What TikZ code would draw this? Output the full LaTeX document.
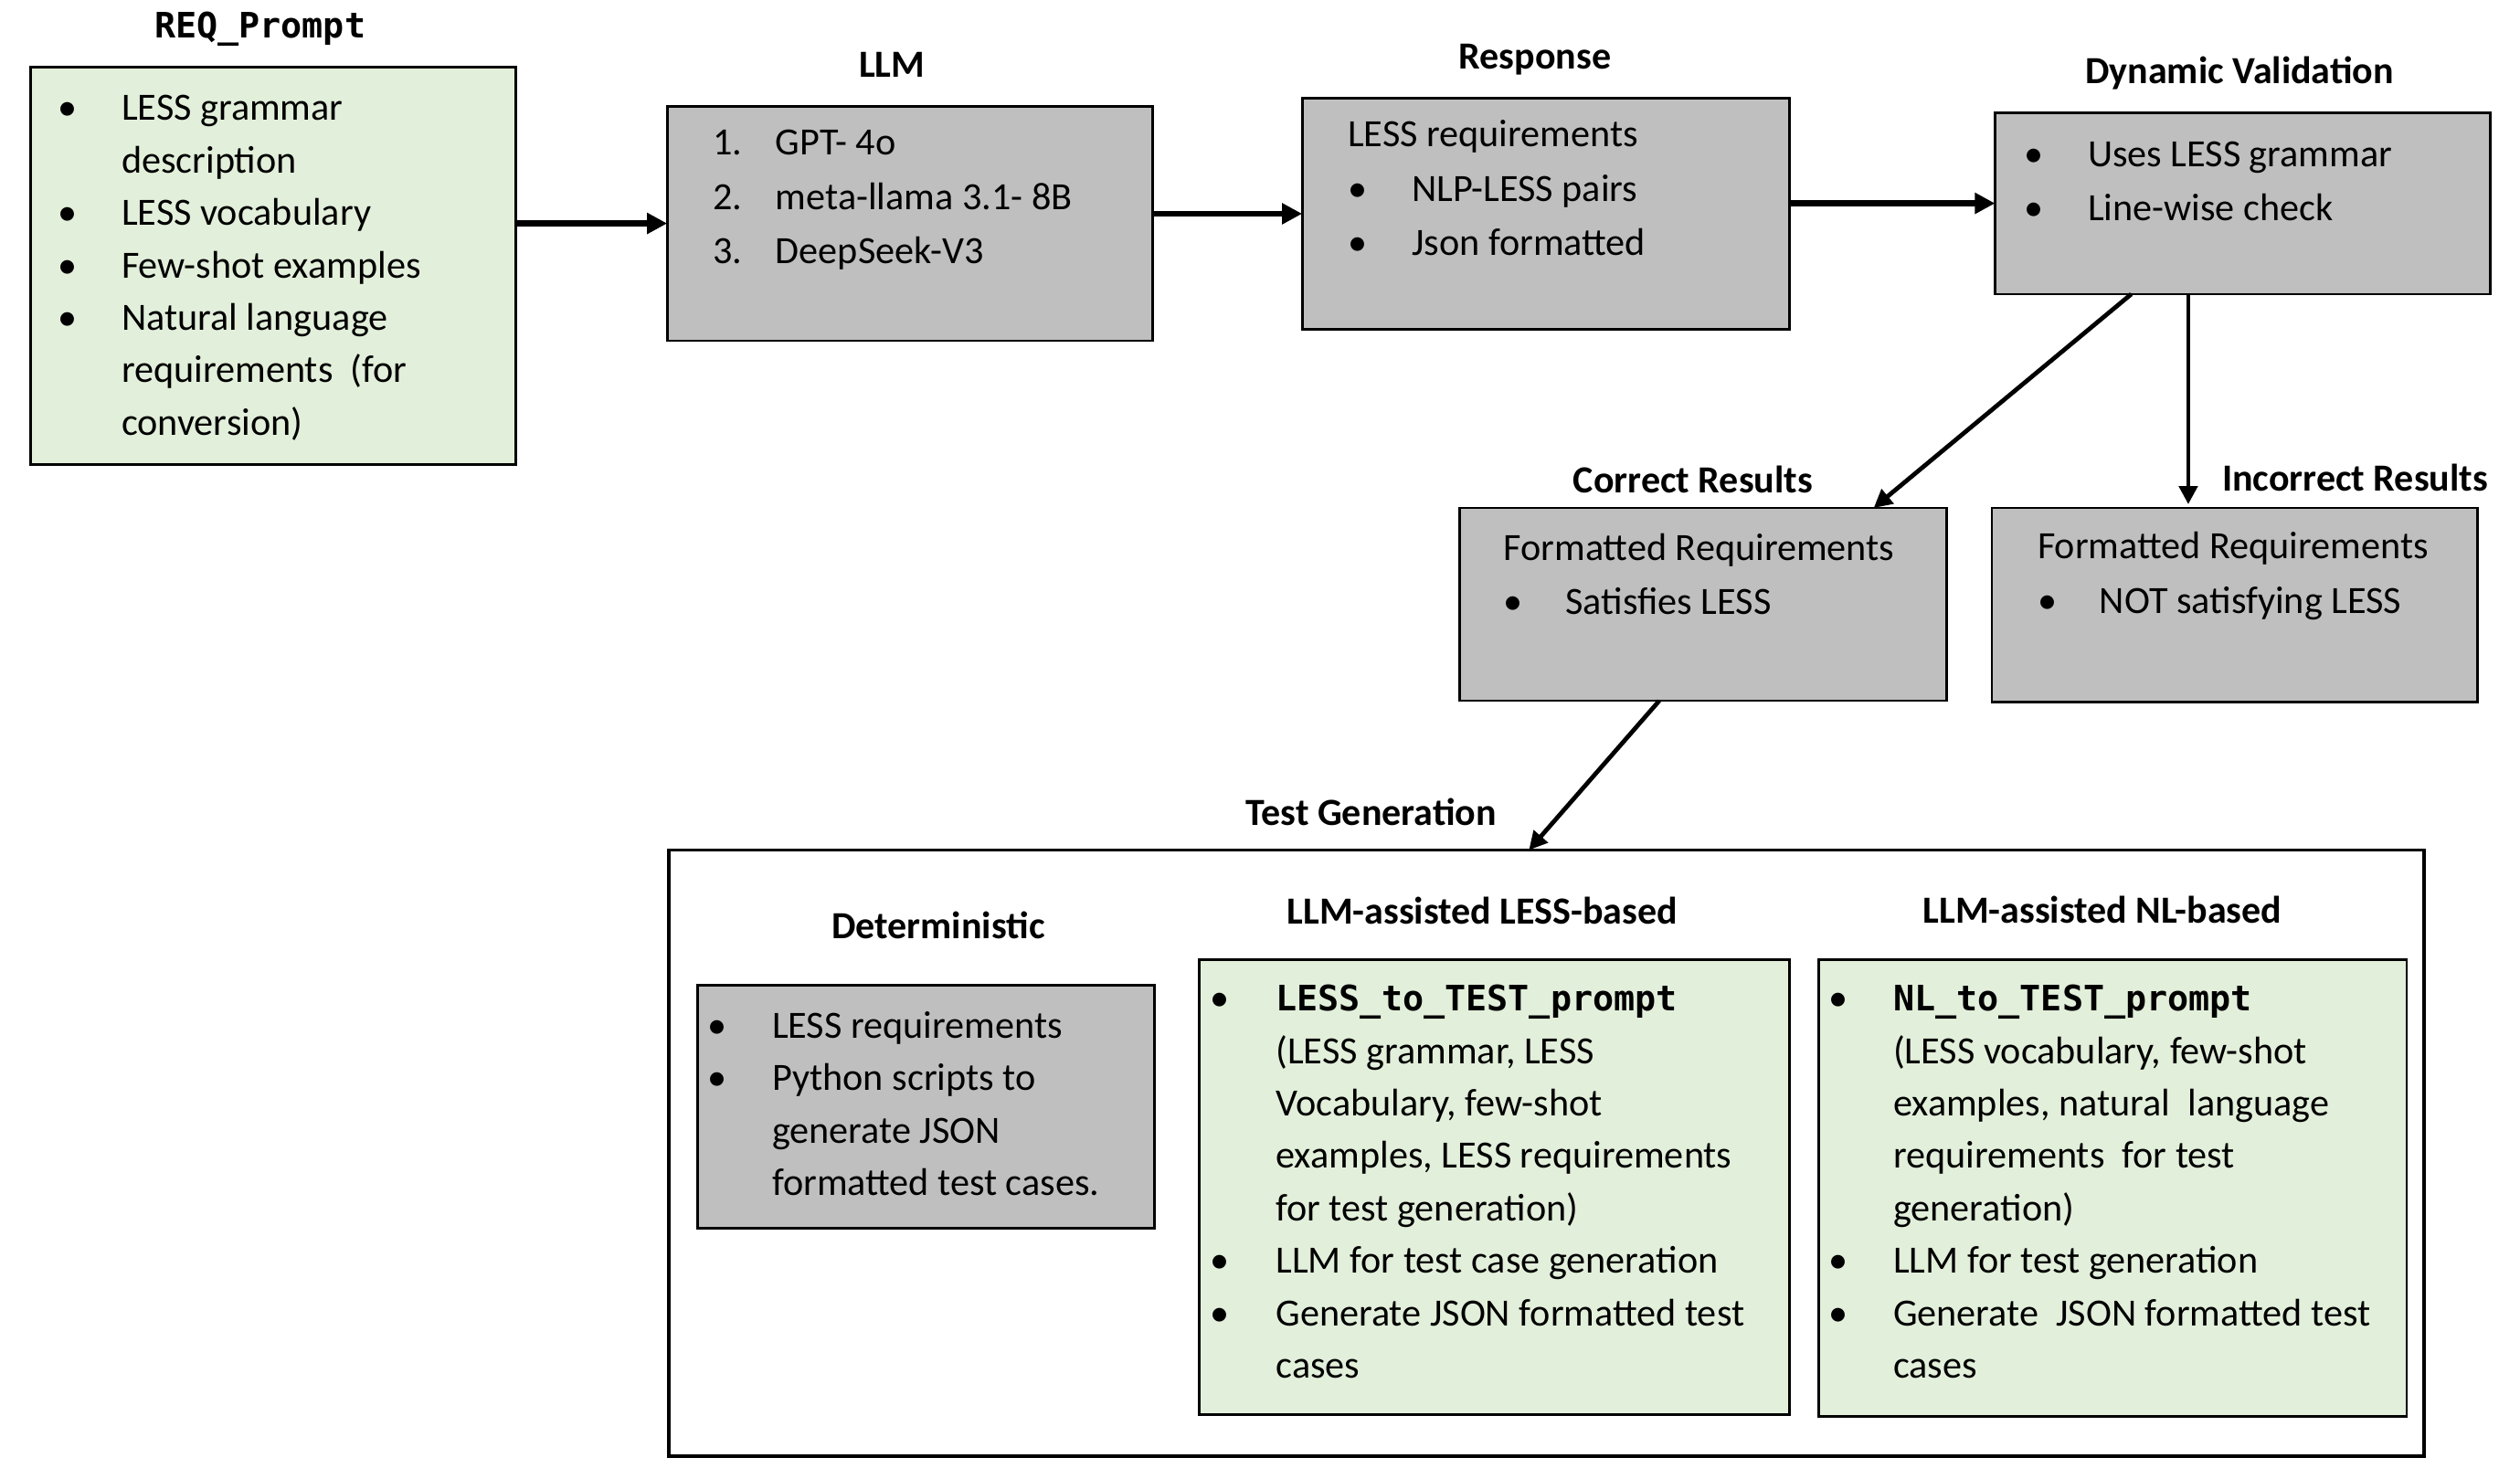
\documentclass[tikz,border=0pt]{standalone}
\usepackage{fontspec}
\setmainfont{Carlito}
\newfontfamily\mymono{DejaVu Sans Mono}
\usetikzlibrary{arrows.meta,calc}
\definecolor{boxgray}{RGB}{191,191,191}
\definecolor{boxgreen}{RGB}{226,239,218}
\tikzset{
  graybox/.style={draw=black, line width=0.7pt, fill=boxgray},
  greenbox/.style={draw=black, line width=0.7pt, fill=boxgreen},
  outerbox/.style={draw=black, line width=0.9pt, fill=white},
  title/.style={font=\fontsize{10.5}{12}\selectfont\bfseries, inner sep=0},
  monotitle/.style={font=\fontsize{9.6}{12}\selectfont\mymono\bfseries, inner sep=0},
  body/.style={font=\fontsize{10.55}{14.35}\selectfont, inner sep=0, anchor=base west},
  loose/.style={font=\fontsize{10.55}{14.9}\selectfont},
  flow/.style={-{Triangle[length=5.5pt,width=5.5pt]}, line width=1.6pt},
  flowthin/.style={-{Triangle[length=5pt,width=5pt]}, line width=1.2pt},
}
\newcommand{\mkbox}[6]{\node[#2, anchor=north west, inner sep=0, outer sep=0,
  minimum width={(#5-#3)*0.2488pt}, minimum height={(#6-#4)*0.2488pt}] (#1) at (#3,#4) {};}
\newcommand{\mcode}[1]{{\fontsize{9.6}{14.35}\selectfont\mymono\bfseries #1}}
\begin{document}
\begin{tikzpicture}[x=0.2488pt, y=-0.2488pt]
\useasboundingbox (0,0) rectangle (2771.4,1626.8);

% boxes
\mkbox{req}{greenbox}{33.6}{74}{567.5}{511}
\mkbox{llm}{graybox}{733.7}{116.7}{1267.7}{374.8}
\mkbox{resp}{graybox}{1432}{107.8}{1968}{362.4}
\mkbox{dv}{graybox}{2194}{123.8}{2739}{323.5}
\mkbox{cor}{graybox}{1605}{558.7}{2141}{770.8}
\mkbox{inc}{graybox}{2190.6}{558.7}{2724.5}{772.6}
\mkbox{tg}{outerbox}{735.5}{935}{2666}{1601.8}
\mkbox{det}{graybox}{767.3}{1083.8}{1269.4}{1350.8}
\mkbox{lessb}{greenbox}{1319}{1055.5}{1968}{1555.8}
\mkbox{nlb}{greenbox}{2000}{1055.5}{2646.7}{1557.6}

% titles
\node[monotitle] (treq) at (286,32) {REQ\_Prompt};
\node[title] (tllm) at (981,71) {LLM};
\node[title] (tresp) at (1688,65) {Response};
\node[title] (tdv) at (2463,80) {Dynamic Validation};
\node[title] (tcor) at (1862,527) {Correct Results};
\node[title] (tinc) at (2590,525) {Incorrect Results};
\node[title] (ttg) at (1508,893) {Test Generation};
\node[title] (tdet) at (1032,1018) {Deterministic};
\node[title] (tlessb) at (1630,1002) {LLM-assisted LESS-based};
\node[title] (tnlb) at (2312,1001) {LLM-assisted NL-based};

% body texts
\node[body] (xreq) at (62.6,132.5) {\begin{tabular}[t]{@{}p{17.5pt}@{}l@{}}
\textbullet & LESS grammar\\
 & description\\
\textbullet & LESS vocabulary\\
\textbullet & Few-shot examples\\
\textbullet & Natural language\\
 & requirements~ (for\\
 & conversion)
\end{tabular}};
\node[body, loose] (xllm) at (783,170.5) {\begin{tabular}[t]{@{}p{17.25pt}@{}l@{}}
1. & GPT- 4o\\
2. & meta-llama 3.1- 8B\\
3. & DeepSeek-V3
\end{tabular}};
\node[body, loose] (xresp) at (1481.5,161.5) {\begin{tabular}[t]{@{}p{17.5pt}@{}l@{}}
\multicolumn{2}{@{}l@{}}{LESS requirements}\\
\textbullet & NLP-LESS pairs\\
\textbullet & Json formatted
\end{tabular}};
\node[body, loose] (xdv) at (2225,183) {\begin{tabular}[t]{@{}p{17.5pt}@{}l@{}}
\textbullet & Uses LESS grammar\\
\textbullet & Line-wise check
\end{tabular}};
\node[body, loose] (xcor) at (1652.7,616) {\begin{tabular}[t]{@{}p{17pt}@{}l@{}}
\multicolumn{2}{@{}l@{}}{Formatted Requirements}\\
\textbullet & Satisfies LESS
\end{tabular}};
\node[body, loose] (xinc) at (2240,614.5) {\begin{tabular}[t]{@{}p{17pt}@{}l@{}}
\multicolumn{2}{@{}l@{}}{Formatted Requirements}\\
\textbullet & NOT satisfying LESS
\end{tabular}};
\node[body] (xdet) at (777,1142) {\begin{tabular}[t]{@{}p{17.75pt}@{}l@{}}
\textbullet & LESS requirements\\
\textbullet & Python scripts to\\
 & generate JSON\\
 & formatted test cases.
\end{tabular}};
\node[body] (xlessb) at (1330.5,1112) {\begin{tabular}[t]{@{}p{17.9pt}@{}l@{}}
\textbullet & \mcode{LESS\_to\_TEST\_prompt}\\
 & (LESS grammar, LESS\\
 & Vocabulary, few-shot\\
 & examples, LESS requirements\\
 & for test generation)\\
\textbullet & LLM for test case generation\\
\textbullet & Generate JSON formatted test\\
 & cases
\end{tabular}};
\node[body] (xnlb) at (2010,1112) {\begin{tabular}[t]{@{}p{17.75pt}@{}l@{}}
\textbullet & \mcode{NL\_to\_TEST\_prompt}\\
 & (LESS vocabulary, few-shot\\
 & examples, natural~ language\\
 & requirements~ for test\\
 & generation)\\
\textbullet & LLM for test generation\\
\textbullet & Generate~ JSON formatted test\\
 & cases
\end{tabular}};

% connectors
\draw[flow] (llm.west -| req.east) -- (llm.west);
\draw[flow] (resp.west -| llm.east) -- (resp.west);
\draw[flow] (dv.west -| resp.east) -- (dv.west);
\draw[flowthin] ($(dv.south west)!0.275!(dv.south east)$) -- ($(cor.north west)!0.85!(cor.north east)$);
\coordinate (dvinc) at ($(dv.south west)!0.39!(dv.south east)$);
\draw[flowthin, shorten >=1pt] (dvinc) -- (dvinc |- inc.north);
\draw[flowthin] ($(cor.south west)!0.41!(cor.south east)$) -- ($(tg.north west)!0.49!(tg.north east)$);
\end{tikzpicture}
\end{document}
